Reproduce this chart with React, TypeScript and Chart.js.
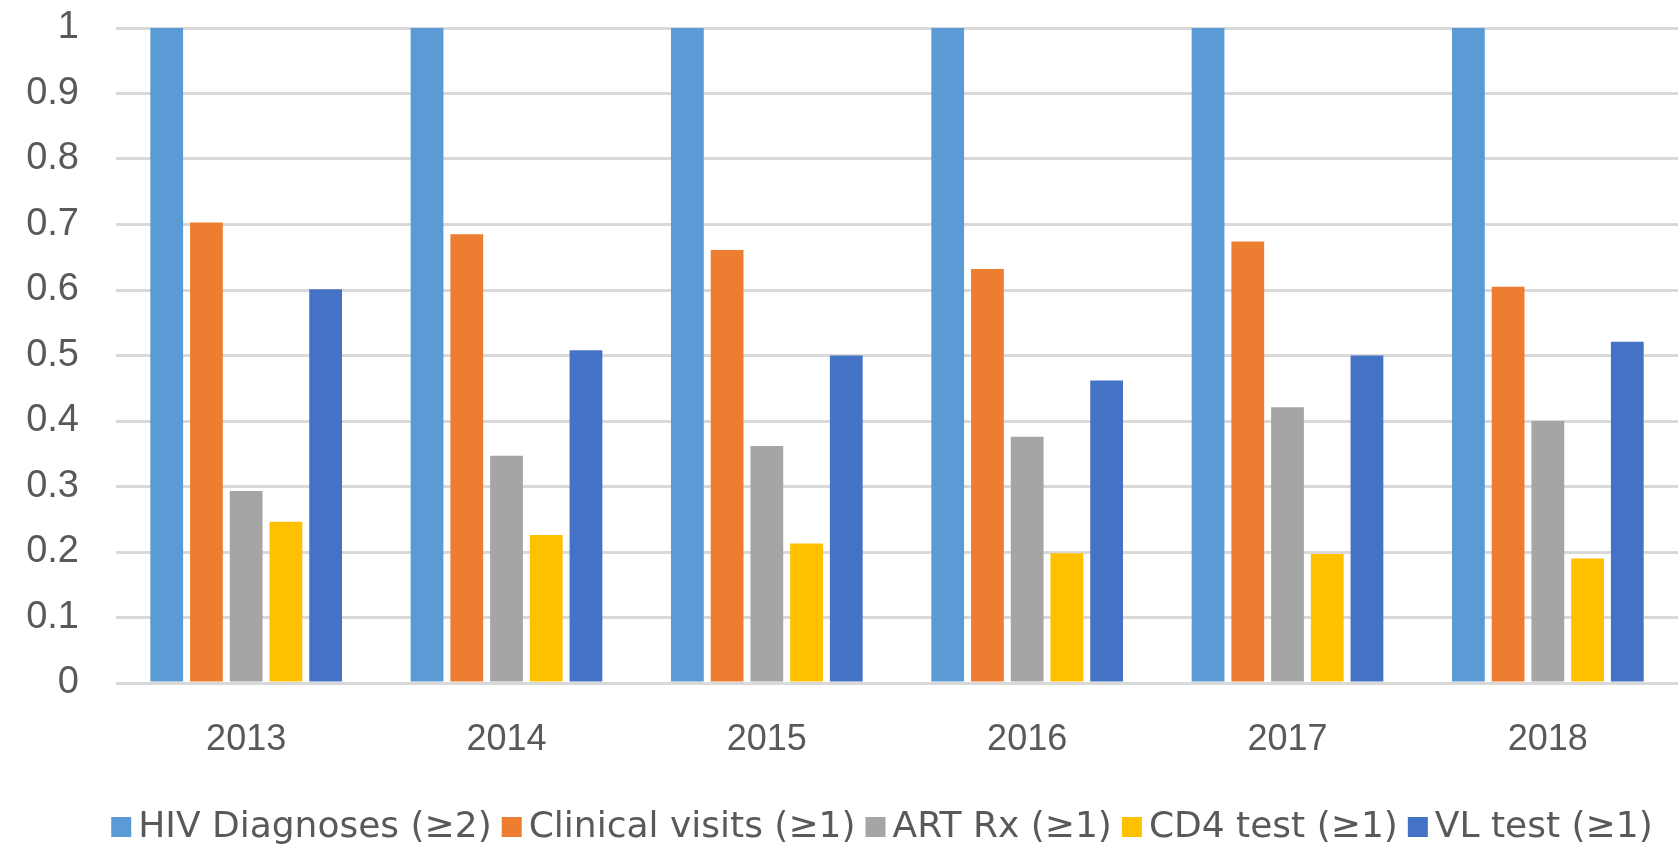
import { useEffect, useRef } from "react";
import { Chart, registerables } from "chart.js";

Chart.register(...registerables);

const categories = ["2013", "2014", "2015", "2016", "2017", "2018"];
const seriesLabels = [
  "HIV Diagnoses (\u22652)",
  "Clinical visits (\u22651)",
  "ART Rx (\u22651)",
  "CD4 test (\u22651)",
  "VL test (\u22651)",
];
const hivDiagnoses = [1, 1, 1, 1, 1, 1];
const clinicalVisits = [0.703, 0.685, 0.661, 0.632, 0.674, 0.605];
const artRx = [0.293, 0.347, 0.362, 0.376, 0.421, 0.4];
const cd4Test = [0.246, 0.226, 0.213, 0.198, 0.197, 0.19];
const vlTest = [0.601, 0.508, 0.5, 0.462, 0.5, 0.521];
const seriesColors = ["#5B9BD5", "#ED7D31", "#A5A5A5", "#FFC000", "#4472C4"];

const FONT = "'Liberation Sans', Arial, sans-serif";
const LEGEND_FONT = "'DejaVu Sans', sans-serif";
const TEXT_COLOR = "#595959";

const legendPlugin = {
  id: "customLegend",
  afterDraw(chart: any) {
    const ctx = chart.ctx as CanvasRenderingContext2D;
    ctx.save();
    ctx.font = `36px ${LEGEND_FONT}`;
    const box = 20;
    const gapBoxText = 7;
    const gapItems = 10;
    const items = chart.data.datasets.map((ds: any) => ({
      label: ds.label as string,
      color: ds.backgroundColor as string,
      w: ctx.measureText(ds.label).width,
    }));
    const total =
      items.reduce((s: number, it: any) => s + box + gapBoxText + it.w, 0) +
      gapItems * (items.length - 1);
    let x = chart.width * 0.5256 - total / 2;
    const cy = chart.height - 23;
    ctx.textBaseline = "middle";
    ctx.textAlign = "left";
    for (const it of items) {
      ctx.fillStyle = it.color;
      ctx.fillRect(x, cy - box / 2, box, box);
      x += box + gapBoxText;
      ctx.fillStyle = TEXT_COLOR;
      ctx.fillText(it.label, x, cy + 1);
      x += it.w + gapItems;
    }
    ctx.restore();
  },
};

export default function App() {
  const canvasRef = useRef<HTMLCanvasElement | null>(null);

  useEffect(() => {
    if (!canvasRef.current) return;
    const series = [hivDiagnoses, clinicalVisits, artRx, cd4Test, vlTest];
    const chart = new Chart(canvasRef.current, {
      type: "bar",
      data: {
        labels: categories,
        datasets: series.map((data, i) => ({
          label: seriesLabels[i],
          data,
          backgroundColor: seriesColors[i],
          borderWidth: 0,
          barPercentage: 0.825,
          categoryPercentage: 0.763,
        })),
      },
      options: {
        animation: false,
        responsive: true,
        maintainAspectRatio: false,
        layout: { padding: { top: 28, right: -9, bottom: 0, left: 0 } },
        plugins: {
          legend: { display: false },
          tooltip: { enabled: false },
          title: { display: false },
        },
        scales: {
          x: {
            grid: { display: false, drawTicks: false },
            border: { display: false },
            ticks: {
              color: TEXT_COLOR,
              font: { family: FONT, size: 36 },
              padding: 35,
            },
            afterFit: (scale: any) => {
              scale.height = 167;
              scale.paddingLeft = 0;
              scale.paddingRight = 0;
            },
          },
          y: {
            min: 0,
            max: 1,
            grid: { color: "#D9D9D9", lineWidth: 3, drawTicks: false },
            border: { display: false },
            ticks: {
              stepSize: 0.1,
              color: TEXT_COLOR,
              font: { family: FONT, size: 38 },
              padding: 37,
              callback: (value: any) => String(Math.round(Number(value) * 10) / 10),
            },
            afterFit: (scale: any) => {
              scale.width = 116;
              scale.paddingTop = 0;
              scale.paddingBottom = 0;
            },
          },
        },
      },
      plugins: [legendPlugin],
    });
    return () => chart.destroy();
  }, []);

  return (
    <div
      style={{
        position: "absolute",
        left: 0,
        top: 0,
        width: 1678,
        height: 850,
        background: "#ffffff",
      }}
    >
      <canvas ref={canvasRef} />
    </div>
  );
}
